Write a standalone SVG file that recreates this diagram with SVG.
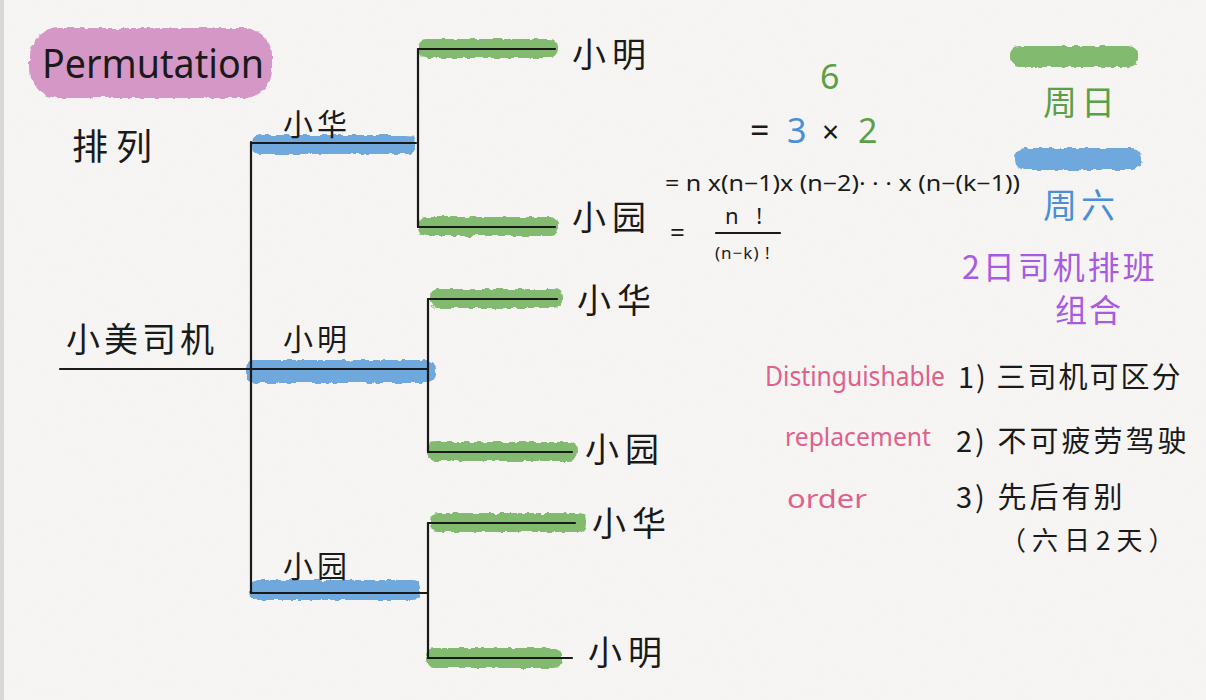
<svg xmlns="http://www.w3.org/2000/svg" width="1206" height="700" viewBox="0 0 1206 700">
<defs>
<filter id="rough" x="-5%" y="-30%" width="110%" height="160%">
<feTurbulence type="fractalNoise" baseFrequency="0.15" numOctaves="2" seed="3" result="n"/>
<feDisplacementMap in="SourceGraphic" in2="n" scale="5" xChannelSelector="R" yChannelSelector="G"/>
</filter>
<filter id="paper">
<feTurbulence type="fractalNoise" baseFrequency="0.9" numOctaves="2" seed="5"/>
<feColorMatrix type="matrix" values="0 0 0 0 0.5  0 0 0 0 0.5  0 0 0 0 0.5  0 0 0 0.05 0"/>
</filter>
</defs>
<style>
.bg{fill:#f7f6f4}
.blue{fill:#6ea8dd;filter:url(#rough)}
.green{fill:#82bb70;filter:url(#rough)}
.pink{fill:#d597c6;filter:url(#rough)}
.ln{stroke:#1a1a1a;stroke-width:2.2;fill:none;stroke-linecap:round}
.cjk{font-family:"Noto Sans CJK SC","Noto Sans",sans-serif;fill:#1a1a1a}
.lat{font-family:"Noto Sans","Liberation Sans",sans-serif;fill:#1a1a1a}
.pk{fill:#e0608c}
.pu{fill:#a85ae0}
.gt{fill:#5aa046}
.bt{fill:#4a8ed8}
</style>
<rect class="bg" x="0" y="0" width="1206" height="700"/>
<rect x="0" y="0" width="1206" height="700" filter="url(#paper)"/>
<rect x="0" y="0" width="4" height="700" fill="#d8d8d8"/>

<g id="title">
<rect class="pink" x="30" y="28" width="242" height="70" rx="28"/>
<text class="lat" x="42" y="78" font-size="40" textLength="222" lengthAdjust="spacingAndGlyphs">Permutation</text>
<text class="cjk" x="72" y="160" font-size="36" letter-spacing="8">排列</text>
</g>

<g id="highlights">
<rect class="blue" x="252" y="135" width="164" height="19" rx="8"/>
<rect class="blue" x="246" y="360" width="190" height="23" rx="9"/>
<rect class="blue" x="250" y="580" width="170" height="20" rx="8"/>
<rect class="green" x="418" y="39" width="140" height="19" rx="8"/>
<rect class="green" x="418" y="217" width="140" height="19" rx="8"/>
<rect class="green" x="430" y="289" width="132" height="19" rx="8"/>
<rect class="green" x="427" y="442" width="150" height="19" rx="8"/>
<rect class="green" x="430" y="513" width="156" height="19" rx="8"/>
<rect class="green" x="426" y="648" width="136" height="20" rx="8"/>
</g>

<g id="connectors">
<path class="ln" d="M60 369 H251"/>
<path class="ln" d="M251 142 V593"/>
<path class="ln" d="M251 143 H416"/>
<path class="ln" d="M251 369 H428"/>
<path class="ln" d="M251 593 H428"/>
<path class="ln" d="M418 49 V227"/>
<path class="ln" d="M418 49 H555 M418 227 H555"/>
<path class="ln" d="M428 299 V452"/>
<path class="ln" d="M428 299 H557 M428 452 H572"/>
<path class="ln" d="M428 523 V658"/>
<path class="ln" d="M428 523 H575 M428 658 H572"/>
</g>

<g id="root"><text class="cjk" x="66" y="352" font-size="34" letter-spacing="4">小美司机</text></g>
<g id="n1"><text class="cjk" x="283" y="135" font-size="30" letter-spacing="4">小华</text></g>
<g id="n2"><text class="cjk" x="283" y="350" font-size="30" letter-spacing="4">小明</text></g>
<g id="n3"><text class="cjk" x="283" y="577" font-size="30" letter-spacing="4">小园</text></g>
<g id="n11"><text class="cjk" x="572" y="67" font-size="34" letter-spacing="6">小明</text></g>
<g id="n12"><text class="cjk" x="572" y="230" font-size="34" letter-spacing="6">小园</text></g>
<g id="n21"><text class="cjk" x="577" y="313" font-size="34" letter-spacing="6">小华</text></g>
<g id="n22"><text class="cjk" x="585" y="462" font-size="34" letter-spacing="6">小园</text></g>
<g id="n31"><text class="cjk" x="592" y="536" font-size="34" letter-spacing="6">小华</text></g>
<g id="n32"><text class="cjk" x="588" y="665" font-size="34" letter-spacing="6">小明</text></g>

<g id="math">
<text class="lat gt" x="820" y="89" font-size="34">6</text>
<text class="lat" x="750" y="143" font-size="34">=</text>
<text class="lat bt" x="787" y="143" font-size="34">3</text>
<text class="lat" x="822" y="143" font-size="30">×</text>
<text class="lat gt" x="858" y="143" font-size="34">2</text>
<text class="lat" x="665" y="191" font-size="21" textLength="355" lengthAdjust="spacingAndGlyphs">= n x(n−1)x (n−2)· · · x (n−(k−1))</text>
<text class="lat" x="670" y="242" font-size="26">=</text>
<text class="lat" x="725" y="224" font-size="22" letter-spacing="6">n !</text>
<path class="ln" d="M716 233 H780" stroke-width="1.8"/>
<text class="lat" x="715" y="259" font-size="17" letter-spacing="1">(n−k) !</text>
</g>

<g id="legend">
<rect class="green" x="1010" y="46" width="128" height="21" rx="9"/>
<text class="cjk gt" x="1043" y="115" font-size="34" letter-spacing="4">周日</text>
<rect class="blue" x="1015" y="148" width="127" height="22" rx="10"/>
<text class="cjk bt" x="1043" y="218" font-size="34" letter-spacing="4">周六</text>
</g>

<g id="notes">
<text class="cjk pu" x="962" y="279" font-size="32" letter-spacing="3">2日司机排班</text>
<text class="cjk pu" x="1055" y="322" font-size="32" letter-spacing="2">组合</text>
<text class="lat pk" x="765" y="386" font-size="27" textLength="180" lengthAdjust="spacingAndGlyphs">Distinguishable</text>
<text class="cjk" x="958" y="388" font-size="29" letter-spacing="2">1) 三司机可区分</text>
<text class="lat pk" x="785" y="446" font-size="25" textLength="146" lengthAdjust="spacingAndGlyphs">replacement</text>
<text class="cjk" x="956" y="452" font-size="29" letter-spacing="3">2) 不可疲劳驾驶</text>
<text class="lat pk" x="787" y="508" font-size="25" textLength="80" lengthAdjust="spacingAndGlyphs">order</text>
<text class="cjk" x="956" y="508" font-size="29" letter-spacing="3">3) 先后有别</text>
<text class="cjk" x="1000" y="550" font-size="26" letter-spacing="6">（六日2天）</text>
</g>
</svg>
